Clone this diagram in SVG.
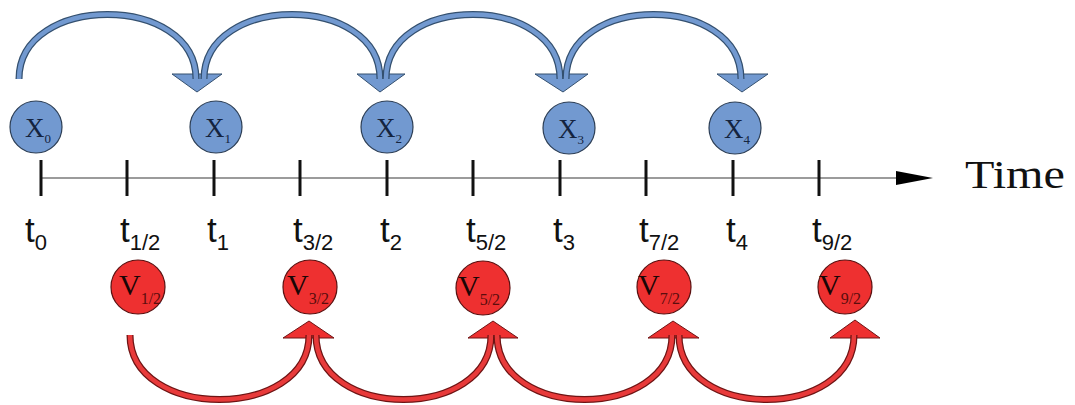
<svg xmlns="http://www.w3.org/2000/svg" width="1075" height="405" viewBox="0 0 1075 405">
<style>
.bg{fill:#ffffff}
.axis{stroke:#7a7a7a;stroke-width:1.5;fill:none}
.tick{stroke:#111;stroke-width:3}
.tl{font-family:"Liberation Sans",Arial,sans-serif;font-size:35px;fill:#111}
.ts{font-size:22px}
.xc{fill:#7299d0;stroke:#2c3e55;stroke-width:1.2}
.vc{fill:#ee3030;stroke:#5a1010;stroke-width:1.2}
.xl{font-family:"Liberation Serif","Times New Roman",serif;font-size:27px;fill:#14243f}
.xs{font-size:13px}
.vl{font-family:"Liberation Serif","Times New Roman",serif;font-size:30px;fill:#1a0606}
.vs{font-size:16px;fill:#5a0d0d}
.bo{fill:none;stroke:#34506f;stroke-width:7}
.bi{fill:none;stroke:#7299d0;stroke-width:4.5}
.bh{fill:#7299d0;stroke:#34506f;stroke-width:1}
.ro{fill:none;stroke:#6e1414;stroke-width:7}
.ri{fill:none;stroke:#e83a3a;stroke-width:4.5}
.rh{fill:#ee3030;stroke:#6e1414;stroke-width:1}
.time{font-family:"Liberation Serif","Times New Roman",serif;font-size:41px;fill:#111}
</style>
<rect class="bg" x="0" y="0" width="1075" height="405"/>

<g id="timeline">
  <line class="axis" x1="41" y1="178" x2="898" y2="178"/>
  <polygon points="896,171 933,178 896,185" fill="#000"/>
  <text class="time" x="965" y="188" textLength="100" lengthAdjust="spacingAndGlyphs">Time</text>
  <g id="ticks">
    <line class="tick" x1="41" y1="160" x2="41" y2="196"/>
    <line class="tick" x1="127" y1="160" x2="127" y2="196"/>
    <line class="tick" x1="214" y1="160" x2="214" y2="196"/>
    <line class="tick" x1="300" y1="160" x2="300" y2="196"/>
    <line class="tick" x1="387" y1="160" x2="387" y2="196"/>
    <line class="tick" x1="473" y1="160" x2="473" y2="196"/>
    <line class="tick" x1="560" y1="160" x2="560" y2="196"/>
    <line class="tick" x1="646" y1="160" x2="646" y2="196"/>
    <line class="tick" x1="733" y1="160" x2="733" y2="196"/>
    <line class="tick" x1="819" y1="160" x2="819" y2="196"/>
  </g>
  <g id="tick-labels">
    <text class="tl" x="25" y="242">t<tspan class="ts" dy="8">0</tspan></text>
    <text class="tl" x="120" y="242">t<tspan class="ts" dy="8">1/2</tspan></text>
    <text class="tl" x="207" y="242">t<tspan class="ts" dy="8">1</tspan></text>
    <text class="tl" x="293" y="242">t<tspan class="ts" dy="8">3/2</tspan></text>
    <text class="tl" x="380" y="242">t<tspan class="ts" dy="8">2</tspan></text>
    <text class="tl" x="466" y="242">t<tspan class="ts" dy="8">5/2</tspan></text>
    <text class="tl" x="553" y="242">t<tspan class="ts" dy="8">3</tspan></text>
    <text class="tl" x="639" y="242">t<tspan class="ts" dy="8">7/2</tspan></text>
    <text class="tl" x="726" y="242">t<tspan class="ts" dy="8">4</tspan></text>
    <text class="tl" x="812" y="242">t<tspan class="ts" dy="8">9/2</tspan></text>
  </g>
</g>

<g id="connectors">
  <polygon class="bh" points="172,74 222,74 197,92"/>
  <polygon class="bh" points="357,74 405,74 380,92"/>
  <polygon class="bh" points="535,74 588,74 563,92"/>
  <polygon class="bh" points="717,74 768,74 742,92"/>
  <path class="bo" d="M19,79 C19,-7 196,-7 196,79"/>
  <path class="bi" d="M19,79 C19,-7 196,-7 196,79"/>
  <path class="bo" d="M204,79 C204,-7 380,-7 380,79"/>
  <path class="bi" d="M204,79 C204,-7 380,-7 380,79"/>
  <path class="bo" d="M386,79 C386,-7 560,-7 560,79"/>
  <path class="bi" d="M386,79 C386,-7 560,-7 560,79"/>
  <path class="bo" d="M566,79 C566,-7 741,-7 741,79"/>
  <path class="bi" d="M566,79 C566,-7 741,-7 741,79"/>

  <polygon class="rh" points="283,338 334,338 309,321"/>
  <polygon class="rh" points="468,338 518,338 493,321"/>
  <polygon class="rh" points="648,338 699,338 673,321"/>
  <polygon class="rh" points="830,338 880,338 855,320"/>
  <path class="ro" d="M130,335 C130,421 309,421 309,335"/>
  <path class="ri" d="M130,335 C130,421 309,421 309,335"/>
  <path class="ro" d="M316,335 C316,421 491,421 491,335"/>
  <path class="ri" d="M316,335 C316,421 491,421 491,335"/>
  <path class="ro" d="M497,335 C497,421 672,421 672,335"/>
  <path class="ri" d="M497,335 C497,421 672,421 672,335"/>
  <path class="ro" d="M679,335 C679,421 854,421 854,335"/>
  <path class="ri" d="M679,335 C679,421 854,421 854,335"/>
</g>

<g id="x0"><circle class="xc" cx="36" cy="127" r="26"/><text class="xl" x="25" y="137">X<tspan class="xs" dy="6">0</tspan></text></g>
<g id="x1"><circle class="xc" cx="216" cy="127" r="26"/><text class="xl" x="205" y="137">X<tspan class="xs" dy="6">1</tspan></text></g>
<g id="x2"><circle class="xc" cx="387" cy="127" r="26"/><text class="xl" x="376" y="137">X<tspan class="xs" dy="6">2</tspan></text></g>
<g id="x3"><circle class="xc" cx="569" cy="128" r="26"/><text class="xl" x="558" y="138">X<tspan class="xs" dy="6">3</tspan></text></g>
<g id="x4"><circle class="xc" cx="735" cy="128" r="26"/><text class="xl" x="724" y="138">X<tspan class="xs" dy="6">4</tspan></text></g>

<g id="v12"><circle class="vc" cx="138" cy="287" r="27"/><text class="vl" x="119" y="295">V<tspan class="vs" dy="9">1/2</tspan></text></g>
<g id="v32"><circle class="vc" cx="310" cy="287" r="27"/><text class="vl" x="287" y="295">V<tspan class="vs" dy="9">3/2</tspan></text></g>
<g id="v52"><circle class="vc" cx="483" cy="288" r="27"/><text class="vl" x="458" y="296">V<tspan class="vs" dy="9">5/2</tspan></text></g>
<g id="v72"><circle class="vc" cx="664" cy="287" r="27"/><text class="vl" x="638" y="295">V<tspan class="vs" dy="9">7/2</tspan></text></g>
<g id="v92"><circle class="vc" cx="845" cy="287" r="27"/><text class="vl" x="819" y="295">V<tspan class="vs" dy="9">9/2</tspan></text></g>
</svg>
